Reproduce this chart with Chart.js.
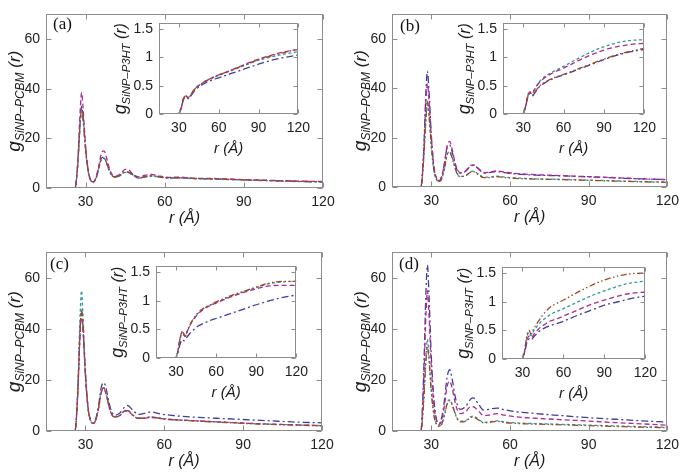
<!DOCTYPE html>
<html><head><meta charset="utf-8">
<script src="https://cdn.jsdelivr.net/npm/chart.js@4.4.0/dist/chart.umd.min.js"></script>
<style>
html,body{margin:0;padding:0;background:#fff}
body{width:685px;height:476px;position:relative;overflow:hidden}
canvas{position:absolute}
</style>
</head><body>
<script>
// ---------- data ----------
const R = [15, 26, 27, 28, 28.5, 29, 30, 31, 32, 33, 34, 35, 36, 37, 38, 39, 40, 41, 43, 45, 46, 48, 50, 52, 55, 58, 62, 66, 70, 80, 90, 100, 110, 120];
const RI = [15, 29, 30, 31, 32, 33, 34, 35, 36, 37, 38, 40, 42, 44, 46, 50, 55, 60, 70, 80, 90, 100, 110, 120];
const XTICKS = [30, 60, 90, 120];
const YTICKS_MAIN = [0, 20, 40, 60];
const YTICKS_INSET = [0, 0.5, 1, 1.5];
const PANEL_LABELS = ['(a)', '(b)', '(c)', '(d)'];

// panel (a) main
const brownA   = [0,0,9,27,32,29,16,7,3,2.5,4,8,11.5,12,10,7,5,4.5,5,6.5,6.5,5.5,4,4.5,5,4.5,4,4.2,3.9,3.6,3.3,3,2.7,2.5];
const magentaA = [0,0,10,32,38.5,33,17,7,3,2.5,4.5,9,14,15,12,8,5.5,4.7,5.5,7.5,7.5,5.5,4.5,5,5.5,4.8,4.3,4.4,4,3.8,3.4,3.1,2.8,2.6];
const tealA    = [0,0,9,26,31.5,28,15,6.5,3,2.4,4,8,11.5,12,10,7,5,4.3,5,6.3,6.2,5.2,4,4.3,4.8,4.4,4,4,3.8,3.5,3.2,2.9,2.6,2.4];
const blueA    = [0,0,9,27,33,29,16,7,3,2.5,4,8,12,12.5,10,7,5,4.5,5,6.5,6.4,5.3,4,4.4,4.9,4.5,4.1,4.1,3.9,3.6,3.3,3,2.7,2.5];
// panel (b) main
const brownB   = [0,0,10,29,35,31,17,7,3,2.2,3.5,7.5,13,14,11.5,8,5,4.2,4.5,6,6.2,5,3.8,3.8,4.2,3.8,3.5,3.3,3.2,3,2.7,2.4,2.1,1.9];
const magentaB = [0,0,12,36,42,37,20,8,3.5,2.5,4.5,9.5,16.5,18.5,15,10,7,5.8,6.5,8.8,9,7.5,5.8,6,6.5,6,5.5,5.2,5,4.6,4.2,3.8,3.3,3];
const tealB    = [0,0,10,28,33.5,30,16,6.5,3,2.2,3.5,7.5,13,14.5,12,8,5.2,4.3,4.6,6.2,6.4,5.2,4,4,4.4,4,3.7,3.5,3.3,3.1,2.8,2.5,2.2,2];
const blueB    = [0,0,13,40,47,41,21,8,3.5,2.5,4.5,9.5,16,17,14,9.5,6.5,5.6,6.3,8.5,8.8,7.3,5.6,5.8,6.3,5.8,5.3,5,4.8,4.5,4.1,3.7,3.3,3];
// panel (c) main
const brownC   = [0,0,13,40,47,42,22,9,4,3,4.5,9,15,17,14,9.5,6.5,5.5,6,8,8,6.2,5,5,5.5,5,4.5,4.2,4,3.5,3,2.6,2.3,2];
const magentaC = [0,0,13,39,46,41,22,9,4,3,4.5,9,15,16.5,14,9.5,6.5,5.5,6,7.8,7.8,6.2,5,5,5.3,5,4.5,4.3,4.1,3.6,3.1,2.7,2.4,2.1];
const tealC    = [0,0,15,46,55,47,24,9.5,4,3,4.5,9,15.5,17,14,9.5,6.5,5.5,6,8,8.2,6.3,5,5,5.6,5.1,4.6,4.3,4.1,3.6,3.1,2.7,2.4,2.1];
const blueC    = [0,0,13,40,47.5,42,22,9,4,3,5,10,17,19,16,11,7.5,6.2,7,9.5,10,8.2,6.5,6.8,7.5,6.8,6.2,5.8,5.5,5,4.5,4,3.5,3.2];
// panel (d) main
const brownD   = [0,0,10,28,33,29,15,6,2.5,1.8,2.8,6,10.5,11.8,10,7,4.5,3.6,3.8,5.3,5.5,4.3,3.2,3.3,3.8,3.3,3,2.8,2.7,2.4,2.1,1.8,1.5,1.3];
const magentaD = [0,0,17,47,55,48,25,10,4,2.5,4.5,10,17.5,19.5,16.5,11.5,8,6.8,7.5,9.5,9.5,7.8,6,6.2,6.8,6.2,5.6,5.2,5,4.4,3.9,3.3,2.8,2.3];
const tealD    = [0,0,11,30,36,31,16,6.5,2.7,2,3,6.5,11,12.3,10.3,7.2,4.7,3.8,4,5.6,5.8,4.5,3.4,3.5,4,3.5,3.2,3,2.9,2.6,2.3,2,1.7,1.5];
const blueD    = [0,0,20,56,65,56,29,12,4.5,2.8,5.5,12,21,24,20,14,10,8.5,9.5,12.5,13,10.5,8.2,8.5,9,8.3,7.6,7.2,6.8,6,5.2,4.6,4,3.5];

// insets
const brownIA   = [0,0,0.01,0.05,0.13,0.24,0.3,0.32,0.3,0.28,0.3,0.37,0.44,0.49,0.52,0.58,0.64,0.69,0.78,0.87,0.96,1.03,1.09,1.15];
const magentaIA = [0,0,0.01,0.05,0.13,0.24,0.3,0.33,0.31,0.29,0.31,0.38,0.45,0.49,0.52,0.58,0.64,0.69,0.78,0.88,0.97,1.04,1.1,1.14];
const tealIA    = [0,0,0.01,0.05,0.13,0.23,0.29,0.31,0.3,0.28,0.3,0.37,0.44,0.48,0.51,0.57,0.63,0.68,0.77,0.86,0.95,1.01,1.06,1.1];
const blueIA    = [0,0,0.01,0.05,0.12,0.22,0.28,0.3,0.29,0.27,0.29,0.35,0.42,0.46,0.49,0.55,0.6,0.64,0.72,0.8,0.88,0.95,1.0,1.04];

const brownIB   = [0,0,0.01,0.06,0.15,0.27,0.34,0.37,0.33,0.33,0.36,0.43,0.49,0.53,0.56,0.61,0.66,0.7,0.79,0.88,0.97,1.05,1.11,1.16];
const magentaIB = [0,0,0.01,0.06,0.16,0.28,0.36,0.39,0.35,0.37,0.41,0.49,0.56,0.6,0.64,0.7,0.76,0.81,0.93,1.04,1.13,1.19,1.23,1.25];
const tealIB    = [0,0,0.01,0.06,0.16,0.28,0.37,0.4,0.36,0.38,0.42,0.5,0.57,0.62,0.66,0.72,0.78,0.84,0.97,1.09,1.19,1.26,1.3,1.31];
const blueIB    = [0,0,0.01,0.06,0.15,0.26,0.33,0.36,0.33,0.32,0.35,0.42,0.48,0.52,0.55,0.6,0.65,0.69,0.78,0.87,0.96,1.04,1.1,1.14];

const brownIC   = [0,0,0.01,0.08,0.2,0.34,0.44,0.47,0.4,0.38,0.45,0.56,0.65,0.72,0.78,0.86,0.92,0.98,1.08,1.16,1.24,1.31,1.34,1.34];
const magentaIC = [0,0,0.01,0.08,0.2,0.33,0.43,0.46,0.4,0.38,0.44,0.55,0.64,0.7,0.76,0.84,0.91,0.96,1.06,1.14,1.21,1.26,1.27,1.27];
const tealIC    = [0,0,0.01,0.08,0.2,0.34,0.43,0.46,0.4,0.38,0.44,0.55,0.64,0.71,0.77,0.85,0.92,0.97,1.07,1.15,1.23,1.3,1.33,1.34];
const blueIC    = [0,0,0.01,0.06,0.15,0.24,0.3,0.32,0.3,0.32,0.36,0.42,0.47,0.51,0.55,0.6,0.65,0.69,0.77,0.85,0.93,1.0,1.06,1.1];

const brownID   = [0,0,0.01,0.08,0.22,0.38,0.48,0.5,0.44,0.45,0.52,0.6,0.67,0.74,0.8,0.9,0.97,1.03,1.16,1.28,1.38,1.45,1.49,1.5];
const magentaID = [0,0,0.01,0.07,0.18,0.3,0.38,0.4,0.37,0.38,0.42,0.48,0.53,0.57,0.6,0.66,0.7,0.75,0.85,0.95,1.03,1.1,1.15,1.17];
const tealID    = [0,0,0.01,0.08,0.2,0.34,0.44,0.46,0.41,0.42,0.48,0.55,0.61,0.66,0.7,0.77,0.83,0.88,0.99,1.1,1.19,1.27,1.33,1.36];
const blueID    = [0,0,0.01,0.06,0.16,0.27,0.33,0.35,0.33,0.34,0.38,0.43,0.48,0.51,0.54,0.58,0.62,0.66,0.76,0.85,0.94,1.0,1.06,1.1];

// ---------- styles ----------
const STY = {
  brown:   {color:'#9a4b22', dash:[6,2.5,1.5,2.5,1.5,2.5]},
  magenta: {color:'#b3278f', dash:[5,3]},
  teal:    {color:'#2e9a9a', dash:[3,2.5]},
  blue:    {color:'#3d3da2', dash:[7,3,2,3]}
};
const FONT = '"Liberation Sans", Arial, sans-serif';

const framePlugin = {
  id:'frame',
  afterDraw(chart, args, o){
    const ctx = chart.ctx, a = chart.chartArea, xs = chart.scales.x, ys = chart.scales.y;
    ctx.save();
    ctx.strokeStyle = '#8c8c8c'; ctx.lineWidth = 1;
    const L = Math.round(a.left)+0.5, Rr = Math.round(a.right)-0.5, T = Math.round(a.top)+0.5, B = Math.round(a.bottom)-0.5;
    ctx.strokeRect(L, T, Rr-L, B-T);
    ctx.beginPath();
    xs.ticks.forEach(t=>{const p=Math.round(xs.getPixelForValue(t.value))+0.5;
      ctx.moveTo(p,B);ctx.lineTo(p,B-o.tick);ctx.moveTo(p,T);ctx.lineTo(p,T+o.tick);});
    ys.ticks.forEach(t=>{const p=Math.round(ys.getPixelForValue(t.value))+0.5;
      ctx.moveTo(L,p);ctx.lineTo(L+o.tick,p);ctx.moveTo(Rr,p);ctx.lineTo(Rr-o.tick,p);});
    ctx.stroke();
    ctx.fillStyle = '#1a1a1a';
    // x title
    ctx.font = 'italic '+Math.round(16*o.s)+'px '+FONT; ctx.textAlign='center'; ctx.textBaseline='middle';
    ctx.fillText('r (Å)', (a.left+a.right)/2, a.bottom + o.xtOff);
    // y title
    ctx.translate(a.left - o.ytOff, (a.top+a.bottom)/2); ctx.rotate(-Math.PI/2);
    ctx.textAlign='left'; ctx.textBaseline='alphabetic';
    const f1='italic '+(19*o.s).toFixed(1)+'px '+FONT, f2='italic '+(12*o.s).toFixed(1)+'px '+FONT, f3='italic '+(17*o.s).toFixed(1)+'px '+FONT;
    ctx.font=f1; const w1=ctx.measureText('g').width;
    ctx.font=f2; const w2=ctx.measureText(o.sub).width;
    ctx.font=f3; const w3=ctx.measureText(' (r)').width;
    let xx = -(w1+w2+w3)/2; const base=5;
    ctx.font=f1; ctx.fillText('g',xx,base); xx+=w1;
    ctx.font=f2; ctx.fillText(o.sub,xx,base+4); xx+=w2;
    ctx.font=f3; ctx.fillText(' (r)',xx,base);
    ctx.restore();
    if(o.label){
      ctx.save(); ctx.font='17px "Liberation Serif", serif'; ctx.fillStyle='#111';
      ctx.textAlign='left'; ctx.textBaseline='alphabetic';
      ctx.fillText(o.label, a.left+o.lx, a.top+o.ly); ctx.restore();
    }
  }
};

function makeChart(c){
  const cv = document.createElement('canvas');
  cv.width=c.W; cv.height=c.H;
  cv.style.left=c.left+'px'; cv.style.top=c.top+'px';
  cv.style.width=c.W+'px'; cv.style.height=c.H+'px';
  document.body.appendChild(cv);
  const datasets = c.series.map(s=>({
    data: c.xs.map((x,j)=>({x:x, y:s.v[j]})),
    borderColor: STY[s.k].color, borderDash: STY[s.k].dash, borderWidth:1.3,
    pointRadius:0, fill:false, cubicInterpolationMode:'monotone'
  }));
  const tickFont = {family:FONT, size:14};
  new Chart(cv,{type:'line', data:{datasets},
    options:{responsive:false, animation:false, devicePixelRatio:1,
      layout:{padding:{left:0, top:c.padT, right:c.padR, bottom:0}},
      plugins:{legend:{display:false}, tooltip:{enabled:false}, frame:c.frame},
      scales:{
        x:{type:'linear', min:15, max:120,
          afterBuildTicks:s=>{s.ticks=XTICKS.map(v=>({value:v}));},
          afterFit:s=>{s.height=c.xH;},
          grid:{display:false, drawTicks:false}, border:{display:false},
          ticks:{padding:6, font:tickFont, color:'#222', maxRotation:0, autoSkip:false, callback:v=>String(v)}},
        y:{type:'linear', min:0, max:c.ymax,
          afterBuildTicks:s=>{s.ticks=c.yticks.map(v=>({value:v}));},
          afterFit:s=>{s.width=c.yW;},
          grid:{display:false, drawTicks:false}, border:{display:false},
          ticks:{padding:6, font:tickFont, color:'#222', autoSkip:false, callback:v=>String(v)}}
      }
    }, plugins:[framePlugin]});
}

const mains = [
  {left:0, top:0, W:342, H:238, area:[46,323,5,188], s:[brownA,magentaA,tealA,blueA], lab:[7,15]},
  {left:342, top:0, W:343, H:238, area:[50,328,4,187], s:[brownB,magentaB,tealB,blueB], lab:[8,17]},
  {left:0, top:238, W:342, H:238, area:[46,322,13,193], s:[brownC,magentaC,tealC,blueC], lab:[4,17]},
  {left:342, top:238, W:343, H:238, area:[50,328,13,193], s:[brownD,magentaD,tealD,blueD], lab:[7,17]}
];
const insets = [
  {box:[159,306,15,114], s:[brownIA,magentaIA,tealIA,blueIA]},
  {box:[503,652,15,114], s:[brownIB,magentaIB,tealIB,blueIB]},
  {box:[156,304,258,358], s:[brownIC,magentaIC,tealIC,blueIC]},
  {box:[502,653,259,359], s:[brownID,magentaID,tealID,blueID]}
];
const KEYS = ['brown','magenta','teal','blue'];

mains.forEach((m,i)=>{
  const [l,r,t,b]=m.area;
  makeChart({left:m.left, top:m.top, W:m.W, H:m.H, padT:t, padR:m.W-r, yW:l, xH:m.H-b,
    xs:R, ymax:70, yticks:YTICKS_MAIN,
    series:m.s.map((v,j)=>({k:KEYS[j], v})),
    frame:{tick:5, s:1, xtOff:31, ytOff:31, sub:'SiNP–PCBM', label:PANEL_LABELS[i], lx:m.lab[0], ly:m.lab[1]}});
});
insets.forEach(n=>{
  const [l,r,t,b]=n.box;
  const padT=6, padR=10, yW=50, xH=46;
  makeChart({left:l-yW, top:t-padT, W:(r-l)+yW+padR, H:(b-t)+padT+xH, padT, padR, yW, xH,
    xs:RI, ymax:1.6, yticks:YTICKS_INSET,
    series:n.s.map((v,j)=>({k:KEYS[j], v})),
    frame:{tick:4, s:0.94, xtOff:35, ytOff:38, sub:'SiNP–P3HT', label:null}});
});
</script>
</body></html>
